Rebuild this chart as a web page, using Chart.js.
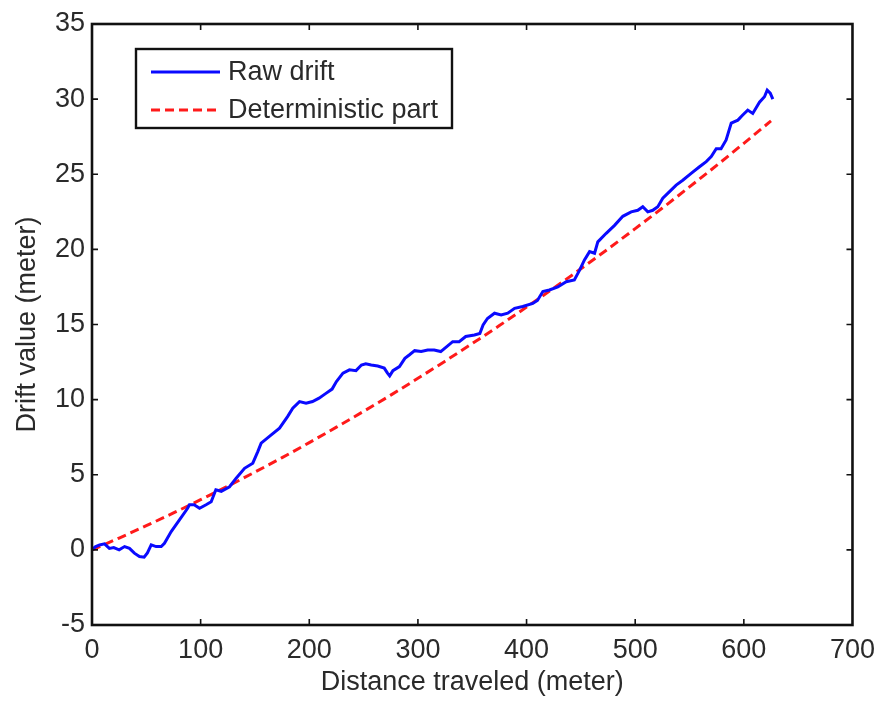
<!DOCTYPE html>
<html>
<head>
<meta charset="utf-8">
<script src="https://cdn.jsdelivr.net/npm/chart.js@4/dist/chart.umd.min.js"></script>
<style>
  html, body { margin: 0; padding: 0; background: #fff; }
  #c { display: block; }
</style>
</head>
<body>
<canvas id="c" width="884" height="704"></canvas>
<script>
// ---- Data ----
const rawDistance = [0, 3, 7, 11.5, 16, 20, 25, 30, 34.5, 39, 43.7, 48, 51, 54.5, 59, 63.7, 66.7, 72.9, 80.5, 88, 89.7, 94, 99, 105, 109.7, 114, 119, 126.6, 132.7, 140.4, 148, 152.6, 155.7, 165, 172.6, 180, 184.8, 191, 197, 203, 209, 215, 221, 225, 231, 237, 243, 248, 252, 257, 263, 269, 272, 274, 277, 283, 288, 292, 297, 303, 309, 315, 321, 326, 332, 338, 344, 352, 357, 360, 364, 370.5, 376.6, 382.7, 389, 396.5, 405.7, 410, 415, 421, 428.8, 436.5, 444, 448.7, 453.3, 458, 462.6, 465.6, 473.3, 481, 488.6, 496.3, 502.4, 507, 511.6, 516.2, 520.8, 525.4, 531.6, 537.7, 543.8, 551.5, 559.2, 565.4, 570, 574.6, 579, 583.7, 588.4, 594.5, 599, 603.6, 608.2, 614.4, 619, 621.5, 624.3, 626.7];
const rawDrift = [0.0, 0.2, 0.33, 0.4, 0.1, 0.15, 0.0, 0.22, 0.1, -0.22, -0.44, -0.49, -0.2, 0.33, 0.22, 0.22, 0.44, 1.22, 2.0, 2.77, 3.0, 3.0, 2.77, 3.0, 3.2, 4.0, 3.9, 4.2, 4.77, 5.43, 5.77, 6.54, 7.1, 7.65, 8.1, 8.87, 9.43, 9.87, 9.76, 9.87, 10.1, 10.4, 10.7, 11.2, 11.76, 11.98, 11.93, 12.3, 12.38, 12.3, 12.24, 12.1, 11.76, 11.58, 11.93, 12.2, 12.75, 12.97, 13.26, 13.2, 13.3, 13.3, 13.2, 13.5, 13.86, 13.86, 14.2, 14.3, 14.4, 14.97, 15.4, 15.75, 15.64, 15.75, 16.08, 16.2, 16.4, 16.6, 17.2, 17.3, 17.5, 17.85, 17.96, 18.6, 19.3, 19.85, 19.74, 20.5, 21.07, 21.6, 22.2, 22.5, 22.6, 22.84, 22.5, 22.6, 22.84, 23.4, 23.84, 24.28, 24.6, 25.06, 25.5, 25.84, 26.17, 26.7, 26.7, 27.28, 28.4, 28.6, 28.94, 29.27, 29.05, 29.8, 30.16, 30.6, 30.4, 30.0];
const detDistance = [0, 25, 50, 75, 100, 125, 150, 175, 200, 225, 250, 275, 300, 325, 350, 375, 400, 425, 450, 475, 500, 525, 550, 575, 600, 625];
const detDrift = [0, 0.79, 1.61, 2.46, 3.34, 4.24, 5.18, 6.14, 7.14, 8.17, 9.22, 10.30, 11.42, 12.56, 13.73, 14.93, 16.16, 17.42, 18.71, 20.03, 21.38, 22.75, 24.16, 25.59, 27.06, 28.55];
const seriesNames = ['Raw drift', 'Deterministic part'];
const xTitle = 'Distance traveled (meter)';
const yTitle = 'Drift value (meter)';

const FONT = 'Liberation Sans, Arial, Helvetica, sans-serif';
const TEXT = '#2a2a2a';

const toPts = (xs, ys) => xs.map((x, i) => ({ x: x, y: ys[i] }));

// Box, inward ticks, and in-plot legend
const framePlugin = {
  id: 'frame',
  afterDatasetsDraw(chart) {
    const ctx = chart.ctx;
    const a = chart.chartArea;
    const xs = chart.scales.x, ys = chart.scales.y;
    ctx.save();
    ctx.strokeStyle = '#111';
    ctx.lineWidth = 1.6;
    const tl = 6;
    ctx.beginPath();
    xs.ticks.forEach(t => {
      const px = xs.getPixelForValue(t.value);
      if (Math.abs(px - a.left) < 1 || Math.abs(px - a.right) < 1) return;
      ctx.moveTo(px, a.bottom); ctx.lineTo(px, a.bottom - tl);
      ctx.moveTo(px, a.top); ctx.lineTo(px, a.top + tl);
    });
    ys.ticks.forEach(t => {
      const py = ys.getPixelForValue(t.value);
      if (Math.abs(py - a.top) < 1 || Math.abs(py - a.bottom) < 1) return;
      ctx.moveTo(a.left, py); ctx.lineTo(a.left + tl, py);
      ctx.moveTo(a.right, py); ctx.lineTo(a.right - tl, py);
    });
    ctx.stroke();
    ctx.lineWidth = 2.6;
    ctx.strokeRect(a.left, a.top, a.right - a.left, a.bottom - a.top);

    // legend
    const lx = 136, ly = 49, lw = 316, lh = 79;
    ctx.fillStyle = '#fff';
    ctx.fillRect(lx, ly, lw, lh);
    ctx.lineWidth = 2.4;
    ctx.strokeStyle = '#111';
    ctx.strokeRect(lx, ly, lw, lh);
    const rows = [72, 110];
    chart.data.datasets.forEach((ds, i) => {
      ctx.beginPath();
      ctx.strokeStyle = ds.borderColor;
      ctx.lineWidth = 3;
      ctx.setLineDash(ds.borderDash || []);
      ctx.moveTo(151, rows[i]); ctx.lineTo(220, rows[i]);
      ctx.stroke();
      ctx.setLineDash([]);
      ctx.fillStyle = TEXT;
      ctx.font = '27px ' + FONT;
      ctx.textBaseline = 'middle';
      ctx.textAlign = 'left';
      ctx.fillText(ds.label, 228, rows[i] + 1);
    });
    ctx.restore();
  }
};

new Chart(document.getElementById('c'), {
  type: 'line',
  data: {
    datasets: [
      {
        label: seriesNames[0],
        data: toPts(rawDistance, rawDrift),
        borderColor: '#0a0aff',
        borderWidth: 3,
        pointRadius: 0,
        tension: 0,
        fill: false
      },
      {
        label: seriesNames[1],
        data: toPts(detDistance, detDrift),
        borderColor: '#ff1a1a',
        borderWidth: 3,
        borderDash: [9, 5],
        pointRadius: 0,
        tension: 0.4,
        cubicInterpolationMode: 'monotone',
        fill: false
      }
    ]
  },
  options: {
    responsive: false,
    devicePixelRatio: 1,
    animation: false,
    layout: { padding: { top: 24, right: 31, left: 0, bottom: 0 } },
    plugins: {
      legend: { display: false },
      tooltip: { enabled: false }
    },
    scales: {
      x: {
        type: 'linear',
        min: 0, max: 700,
        ticks: { stepSize: 100, color: TEXT, font: { family: FONT, size: 27 }, padding: 9, maxRotation: 0 },
        grid: { display: false, drawTicks: false },
        border: { display: false },
        title: { display: true, text: xTitle, color: TEXT, font: { family: FONT, size: 27 }, padding: { top: 0, bottom: 5 } },
        afterFit: s => { s.height = 79; }
      },
      y: {
        type: 'linear',
        min: -5, max: 35,
        ticks: { stepSize: 5, color: TEXT, font: { family: FONT, size: 27 }, padding: 7 },
        grid: { display: false, drawTicks: false },
        border: { display: false },
        title: { display: true, text: yTitle, color: TEXT, font: { family: FONT, size: 27 }, padding: { top: 11, bottom: 0 } },
        afterFit: s => { s.width = 92; }
      }
    }
  },
  plugins: [framePlugin]
});
</script>
</body>
</html>
